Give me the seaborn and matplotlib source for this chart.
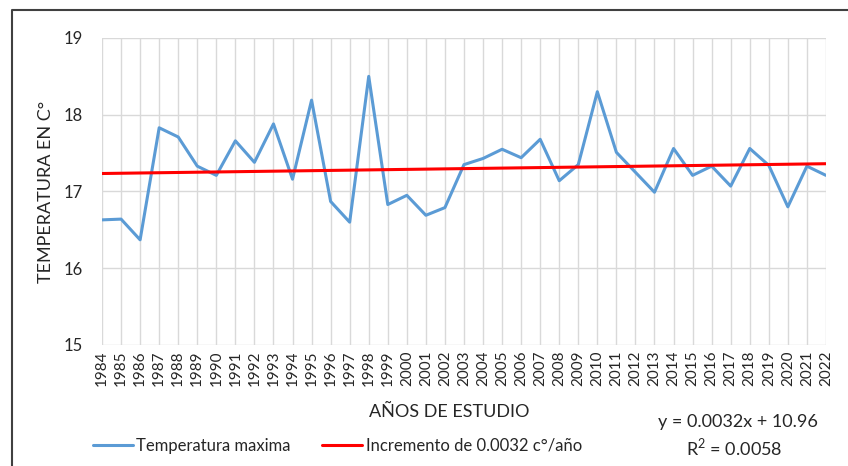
import matplotlib
matplotlib.use("Agg")
import matplotlib.pyplot as plt
from matplotlib.lines import Line2D
import seaborn as sns
import numpy as np
import pandas as pd

# data
years = list(range(1984, 2023))
temp_max = [16.63, 16.64, 16.37, 17.83, 17.71, 17.33, 17.21, 17.66, 17.38, 17.88,
            17.16, 18.19, 16.87, 16.60, 18.50, 16.83, 16.95, 16.69, 16.79, 17.35,
            17.43, 17.55, 17.44, 17.68, 17.14, 17.35, 18.30, 17.51, 17.25, 16.99,
            17.56, 17.21, 17.33, 17.07, 17.56, 17.34, 16.80, 17.33, 17.21]
y_ticks = [15, 16, 17, 18, 19]
serie_label = 'Temperatura maxima'
trend_label = 'Incremento de 0.0032 c°/año'
eq_text = 'y = 0.0032x + 10.96'
r2_text = 'R$^2$ = 0.0058'

df = pd.DataFrame({'anio': years, 'temp': temp_max})
coef = np.polyfit(df['anio'], df['temp'], 1)
df['trend'] = np.polyval(coef, df['anio'])

sns.set_style('white')
plt.rcParams['font.family'] = ['Lato', 'DejaVu Sans']
plt.rcParams['mathtext.fontset'] = 'custom'
plt.rcParams['mathtext.rm'] = 'Lato'

fig = plt.figure(figsize=(8.48, 4.66), dpi=100)
ax = fig.add_axes([0.1203, 0.2597, 0.8537, 0.6588])

sns.lineplot(data=df, x='anio', y='temp', ax=ax, color='#5B9BD5', linewidth=2.2)
sns.lineplot(data=df, x='anio', y='trend', ax=ax, color='#FF0000', linewidth=2.2)

ax.set_xlim(years[0], years[-1])
ax.set_ylim(15, 19)
ax.set_xticks(years)
ax.set_xticklabels([str(y) for y in years], rotation=90, fontsize=11)
ax.set_yticks(y_ticks)
ax.set_yticklabels([str(t) for t in y_ticks], fontsize=12)
ax.tick_params(axis='both', length=0, pad=4)
ax.tick_params(axis='y', pad=14)
ax.grid(True, color='#D9D9D9', linewidth=1)
for s in ax.spines.values():
    s.set_visible(False)
ax.set_xlabel('')
ax.set_ylabel('TEMPERATURA EN C°', fontsize=13, labelpad=7)

fig.text(0.530, 0.115, 'AÑOS DE ESTUDIO', ha='center', va='center', fontsize=13)
fig.text(0.870, 0.095, eq_text, ha='center', va='center', fontsize=13)
fig.text(0.866, 0.041, r2_text, ha='center', va='center', fontsize=13)

handles = [Line2D([], [], color='#5B9BD5', linewidth=2.2),
           Line2D([], [], color='#FF0000', linewidth=2.2)]
fig.legend(handles, [serie_label, trend_label], loc='center', bbox_to_anchor=(0.398, 0.043),
           ncol=2, frameon=False, fontsize=12, handlelength=2.4, handletextpad=0.2,
           columnspacing=1.9)

# outer chart border (left and top edges visible)
fig.add_artist(Line2D([0.0142, 0.0142, 1.0], [0.0, 0.9785, 0.9785],
                      transform=fig.transFigure, color='#404040', linewidth=1.5))

fig.savefig('out.png', dpi=100)
